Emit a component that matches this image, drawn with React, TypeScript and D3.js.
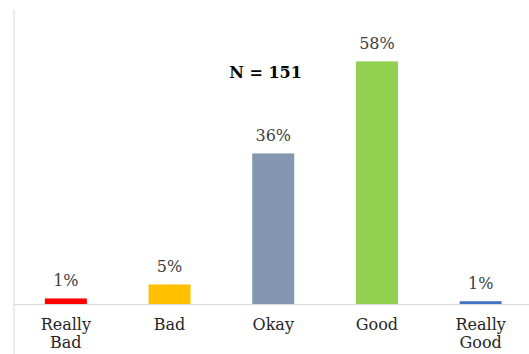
import React from "react";
import * as d3 from "d3";

const categories: string[][] = [["Really", "Bad"], ["Bad"], ["Okay"], ["Good"], ["Really", "Good"]];
const values: number[] = [1.32, 4.64, 35.76, 57.62, 0.66];
const valueLabels: string[] = ["1%", "5%", "36%", "58%", "1%"];
const colors: string[] = ["#FF0000", "#FFC000", "#8497B0", "#92D050", "#4472C4"];
const annotation = "N = 151";

const W = 529;
const H = 354;

export default function App() {
  const x0 = 14;
  const baseY = 304;
  const keys = categories.map((_, i) => String(i));
  const x = d3.scaleBand<string>().domain(keys).range([x0, 532.5]).paddingInner(0.595).paddingOuter(0.2975);
  const y = d3.scaleLinear().domain([0, 70]).range([baseY, baseY - 70 * 4.21]);
  const font = "'DejaVu Serif', serif";

  return (
    <svg width={W} height={H} style={{ position: "absolute", left: 0, top: 0, background: "#fff" }}>
      <line x1={x0} x2={x0} y1={10} y2={H} stroke="#D9D9D9" strokeWidth={1} />
      {values.map((v, i) => {
        const bx = x(keys[i])!;
        const bw = x.bandwidth();
        return (
          <g key={i}>
            <rect x={bx} y={y(v)} width={bw} height={baseY - y(v)} fill={colors[i]} />
            <text x={bx + bw / 2} y={y(v) - 12} textAnchor="middle" fontFamily={font} fontSize={16} fill="#404040">
              {valueLabels[i]}
            </text>
            {categories[i].map((line, j) => (
              <text key={j} x={bx + bw / 2} y={330 + j * 18} textAnchor="middle" fontFamily={font} fontSize={16} fill="#262626">
                {line}
              </text>
            ))}
          </g>
        );
      })}
      <line x1={x0} x2={W} y1={baseY + 0.5} y2={baseY + 0.5} stroke="#D9D9D9" strokeWidth={1} />
      <text x={265.5} y={78} textAnchor="middle" fontFamily={font} fontSize={16} fontWeight="bold" fill="#000">
        {annotation}
      </text>
    </svg>
  );
}
